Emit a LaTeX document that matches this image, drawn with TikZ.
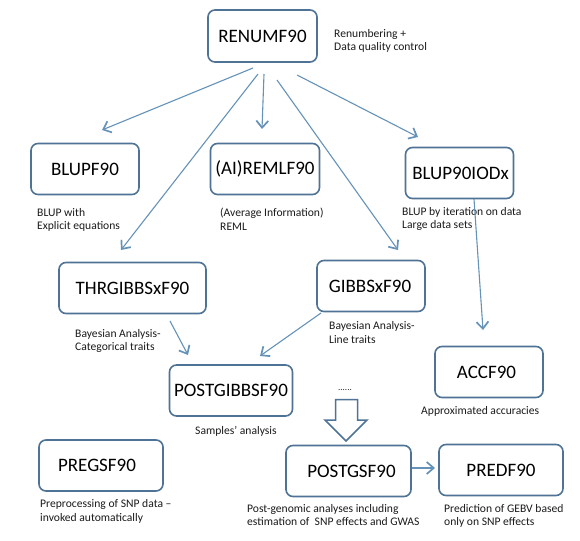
\documentclass[tikz,border=0pt]{standalone}
\usepackage{fontspec}
\setmainfont{Carlito}
\definecolor{boxc}{HTML}{4F7396}
\definecolor{arrc}{HTML}{6592B8}
\definecolor{txtc}{HTML}{1A1A1A}
\usetikzlibrary{arrows.meta}
\tikzset{
  prog/.style={draw=boxc,line width=1.6pt,rounded corners=7pt,fill=white,inner sep=0pt,text=black,font=\fontsize{19}{20}\selectfont},
  note/.style={anchor=north west,inner sep=0pt,align=left,text=txtc,font=\fontsize{11.6}{13.4}\selectfont},
  link/.style={draw=arrc,line width=1.1pt,-{Straight Barb[length=7pt,width=12pt,line width=1.7pt]}},
}
\begin{document}
\begin{tikzpicture}[x=1pt,y=-1pt]
\useasboundingbox (0,0) rectangle (580,540);
\node[prog,minimum width=109pt,minimum height=52pt] (renum) at (262.5,36) {RENUMF90};
\node[prog,minimum width=108pt,minimum height=51pt] (blup) at (85,169) {BLUPF90};
\node[prog,minimum width=109pt,minimum height=51pt] (reml) at (265,169) {(AI)REMLF90};
\node[prog,minimum width=108pt,minimum height=51pt] (iod) at (459.5,173) {\hspace*{2pt}BLUP90IODx};
\node[prog,minimum width=147pt,minimum height=51pt] (thr) at (132.5,288) {THRGIBBSxF90};
\node[prog,minimum width=108pt,minimum height=51pt] (gibbs) at (371,286) {\hspace*{-2pt}GIBBSxF90};
\node[prog,minimum width=123pt,minimum height=51pt] (post) at (231,390.5) {POSTGIBBSF90};
\node[prog,minimum width=108pt,minimum height=51pt] (acc) at (489,372) {\hspace*{-5pt}ACCF90};
\node[prog,minimum width=124pt,minimum height=51pt] (pregs) at (101,465.5) {\hspace*{-8pt}PREGSF90};
\node[prog,minimum width=125pt,minimum height=51pt] (postgs) at (348.5,471) {\hspace*{6pt}POSTGSF90};
\node[prog,minimum width=124pt,minimum height=51pt] (pred) at (501,470) {PREDF90};

\node[note] (n1) at (334,29) {Renumbering +\\Data quality control};
\node[note] (n2) at (37,208) {BLUP with\\Explicit equations};
\node[note] (n3) at (220,208) {(Average Information)\\REML};
\node[note] (n4) at (402,207) {BLUP by iteration on data\\Large data sets};
\node[note] (n5) at (75,329) {Bayesian Analysis-\\Categorical traits};
\node[note] (n6) at (329,321.5) {Bayesian Analysis-\\Line traits};
\node[note] (n7) at (195,426) {Samples' analysis};
\node[note] (n8) at (421,406) {Approximated accuracies};
\node[note] (n9) at (40,499.5) {Preprocessing of SNP data --\\invoked automatically};
\node[note] (n10) at (247,504) {Post-genomic analyses including\\estimation of\ \ SNP effects and GWAS};
\node[note] (n11) at (444,504) {Prediction of GEBV based\\only on SNP effects};
\node[inner sep=0pt,font=\fontsize{9}{9}\selectfont,text=txtc] (dots) at (345,390) {......};

\coordinate (a1s) at (253,68); \coordinate (a1e) at (102,130);
\coordinate (a2s) at (264,74); \coordinate (a2e) at (262,129);
\coordinate (a3s) at (258,74); \coordinate (a3e) at (121,250);
\coordinate (a4s) at (277,80); \coordinate (a4e) at (398,250);
\coordinate (a5s) at (297,75); \coordinate (a5e) at (418,137);
\coordinate (a6s) at (474,199); \coordinate (a6e) at (483,330);
\coordinate (a7s) at (170,321); \coordinate (a7e) at (188,355);
\coordinate (a8s) at (321,313); \coordinate (a8e) at (260,356);
\coordinate (a9s) at (411.5,468); \coordinate (a9e) at (435,468);

\draw[link] (a1s) -- (a1e);
\draw[link] (a2s) -- (a2e);
\draw[link] (a3s) -- (a3e);
\draw[link] (a4s) -- (a4e);
\draw[link] (a5s) -- (a5e);
\draw[link] (a6s) -- (a6e);
\draw[link] (a7s) -- (a7e);
\draw[link] (a8s) -- (a8e);
\draw[link] (a9s) -- (a9e);

\draw[draw=boxc,line width=1.5pt,fill=white,line join=miter]
  (335.5,399.5) -- (357.5,399.5) -- (357.5,420) -- (367,420) -- (346,441) -- (325,420) -- (335.5,420) -- cycle;
\end{tikzpicture}
\end{document}
